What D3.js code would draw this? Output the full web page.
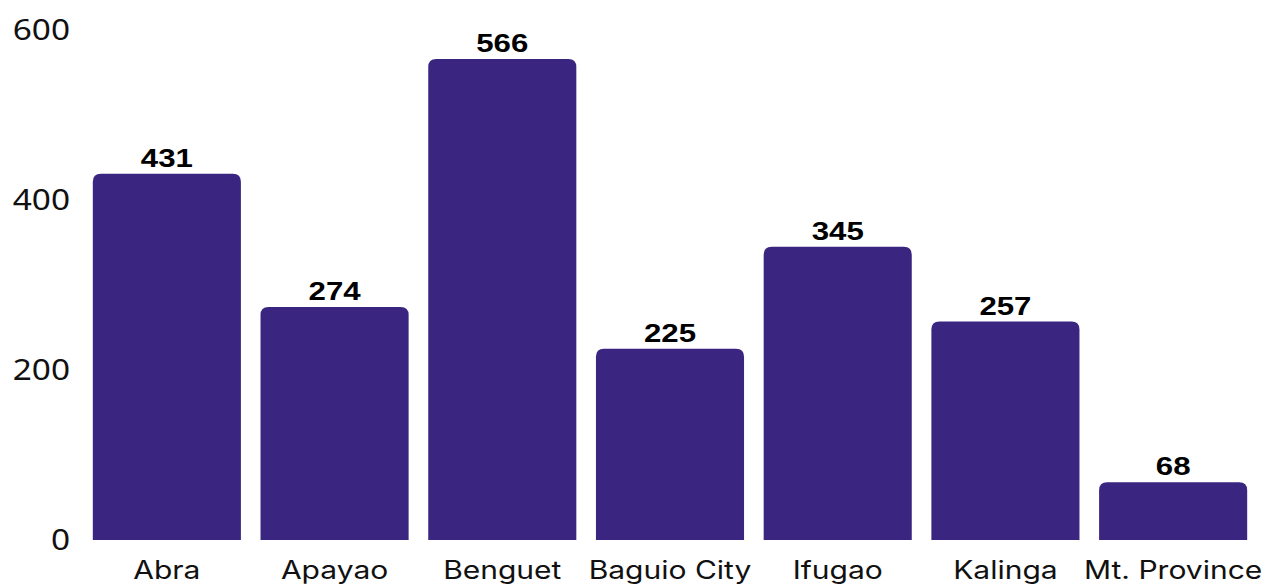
<!DOCTYPE html>
<html><head><meta charset="utf-8">
<script src="https://cdn.jsdelivr.net/npm/d3@7"></script>
<style>body{margin:0;background:#fff}</style>
</head><body>
<svg id="c" width="1281" height="588"></svg>
<script>
const categories = ["Abra","Apayao","Benguet","Baguio City","Ifugao","Kalinga","Mt. Province"];
const values = [431,274,566,225,345,257,68];
const yTicks = [0,200,400,600];

const svg = d3.select("#c");
const x = d3.scaleBand().domain(categories).range([83,1257]).paddingInner(0.117).paddingOuter(0.0585);
const y = d3.scaleLinear().domain([0,600]).range([540,30]);
const r = 8;
const color = "#3a2580";

svg.selectAll("path.bar").data(values).enter().append("path")
  .attr("class","bar").attr("fill",color)
  .attr("d",(d,i)=>{
    const x0=x(categories[i]), w=x.bandwidth(), yt=y(d), yb=y(0);
    return `M${x0},${yb}V${yt+r}Q${x0},${yt} ${x0+r},${yt}H${x0+w-r}Q${x0+w},${yt} ${x0+w},${yt+r}V${yb}Z`;
  });

svg.selectAll("text.val").data(values).enter().append("text")
  .attr("class","val")
  .attr("transform",(d,i)=>`translate(${x(categories[i])+x.bandwidth()/2},${y(d)-7}) scale(1.2,1)`)
  .attr("text-anchor","middle")
  .attr("font-family","Liberation Sans, Arial, sans-serif")
  .attr("font-weight","bold").attr("font-size",26).attr("fill","#000")
  .text(d=>d);

const yAxis = svg.append("g").attr("transform","translate(70,0)")
  .call(d3.axisLeft(y).tickValues(yTicks).tickSize(0).tickPadding(0));
yAxis.select(".domain").remove();
yAxis.selectAll("text").attr("font-family","Noto Sans, sans-serif").attr("font-size",29).attr("fill","#111")
  .attr("transform","scale(1.15,1)");

const xAxis = svg.append("g").attr("transform","translate(0,540)")
  .call(d3.axisBottom(x).tickSize(0).tickPadding(21));
xAxis.select(".domain").remove();
xAxis.selectAll("text").attr("font-family","Inter, sans-serif").attr("font-size",25).attr("fill","#111")
  .attr("transform","scale(1.2,1)");
</script>
</body></html>
